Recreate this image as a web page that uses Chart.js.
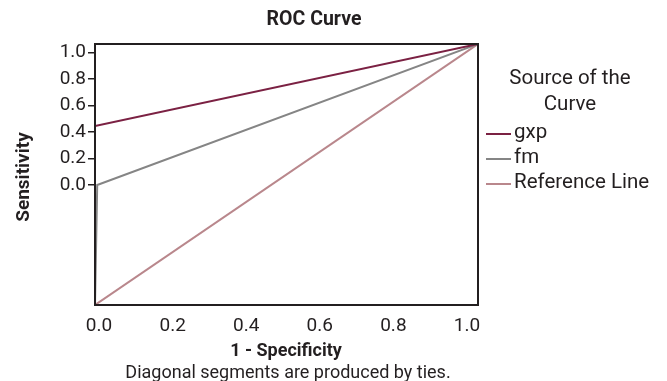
<!DOCTYPE html>
<html><head><meta charset="utf-8">
<script src="https://cdn.jsdelivr.net/npm/chart.js@4"></script>
<style>html,body{margin:0;padding:0;background:#fff}#wrap{width:667px;height:381px;position:relative}</style>
</head><body><div id="wrap"><canvas id="c" width="667" height="381"></canvas></div>
<script>
// ---- data (in the plotted axis units) ----
const seriesNames = ['gxp', 'fm', 'Reference Line'];
const gxpX = [-0.011, 1.03];
const gxpY = [0.445, 1.063];
const fmX = [-0.011, -0.005, 1.03];
const fmY = [-0.904, 0.0, 1.063];
const refX = [-0.011, 1.03];
const refY = [-0.904, 1.063];
const xTickValues = [0, 0.2, 0.4, 0.6, 0.8, 1.0];
const yTickValues = [0, 0.2, 0.4, 0.6, 0.8, 1.0];
const chartTitle = 'ROC Curve';
const xTitle = '1 - Specificity';
const yTitle = 'Sensitivity';
const footnote = 'Diagonal segments are produced by ties.';
const legendTitle = ['Source of the', 'Curve'];

const colors = ['#7b2143', '#858585', '#b9878c'];
const toPts = (xs, ys) => xs.map((x, i) => ({x: x, y: ys[i]}));
const FONT = 'Roboto, "DejaVu Sans", sans-serif';
const TXT = '#231f20';

const decor = {
  id: 'decor',
  afterDraw(chart) {
    const ctx = chart.ctx, a = chart.chartArea;
    ctx.save();
    // frame
    ctx.strokeStyle = TXT; ctx.lineWidth = 2;
    ctx.strokeRect(a.left, a.top, a.right - a.left, a.bottom - a.top);
    ctx.fillStyle = TXT;
    ctx.textAlign = 'center'; ctx.textBaseline = 'middle';
    // title
    ctx.font = 'bold 19.5px ' + FONT;
    ctx.fillText(chartTitle, 314, 20);
    // x title
    ctx.font = 'bold 18px ' + FONT;
    ctx.fillText(xTitle, 286, 351);
    // y title
    ctx.font = 'bold 19px ' + FONT;
    ctx.save();
    ctx.translate(24, 177); ctx.rotate(-Math.PI / 2);
    ctx.fillText(yTitle, 0, 0);
    ctx.restore();
    // footnote
    ctx.font = '18px ' + FONT;
    ctx.fillText(footnote, 288, 373);
    // legend
    ctx.font = '20.5px ' + FONT;
    ctx.fillText(legendTitle[0], 570, 79);
    ctx.fillText(legendTitle[1], 570, 105);
    ctx.textAlign = 'left';
    chart.data.datasets.forEach((ds, i) => {
      const y = 134 + i * 25;
      ctx.strokeStyle = ds.borderColor; ctx.lineWidth = 2;
      ctx.beginPath(); ctx.moveTo(486, y); ctx.lineTo(511, y); ctx.stroke();
      ctx.fillStyle = TXT;
      ctx.fillText(ds.label, 514, y - 1);
    });
    ctx.restore();
  }
};

new Chart(document.getElementById('c'), {
  type: 'scatter',
  data: {
    datasets: [
      {label: seriesNames[0], data: toPts(gxpX, gxpY), borderColor: colors[0]},
      {label: seriesNames[1], data: toPts(fmX, fmY), borderColor: colors[1]},
      {label: seriesNames[2], data: toPts(refX, refY), borderColor: colors[2]}
    ].map(d => Object.assign(d, {showLine: true, pointRadius: 0, borderWidth: 2, fill: false, tension: 0, backgroundColor: d.borderColor}))
  },
  options: {
    responsive: false, animation: false, devicePixelRatio: 1,
    layout: {padding: {top: 44, right: 189, left: 0, bottom: 0}},
    plugins: {legend: {display: false}, title: {display: false}, tooltip: {enabled: false}},
    scales: {
      x: {
        type: 'linear', min: -0.011, max: 1.03,
        afterBuildTicks: s => { s.ticks = xTickValues.map(v => ({value: v})); },
        afterFit: s => { s.height = 76; },
        grid: {display: false, drawTicks: false},
        border: {display: false},
        ticks: {font: {family: FONT, size: 19}, color: TXT, padding: 10, maxRotation: 0, autoSkip: false,
                callback: v => Number(v).toFixed(1)}
      },
      y: {
        type: 'linear', min: -0.904, max: 1.063,
        afterBuildTicks: s => { s.ticks = yTickValues.map(v => ({value: v})); },
        afterFit: s => { s.width = 95; },
        grid: {display: true, drawOnChartArea: false, drawTicks: true, tickLength: 7, color: TXT, lineWidth: 1.5},
        border: {display: false},
        ticks: {font: {family: FONT, size: 19}, color: TXT, padding: 2, autoSkip: false,
                callback: v => Number(v).toFixed(1)}
      }
    }
  },
  plugins: [decor]
});
</script></body></html>
